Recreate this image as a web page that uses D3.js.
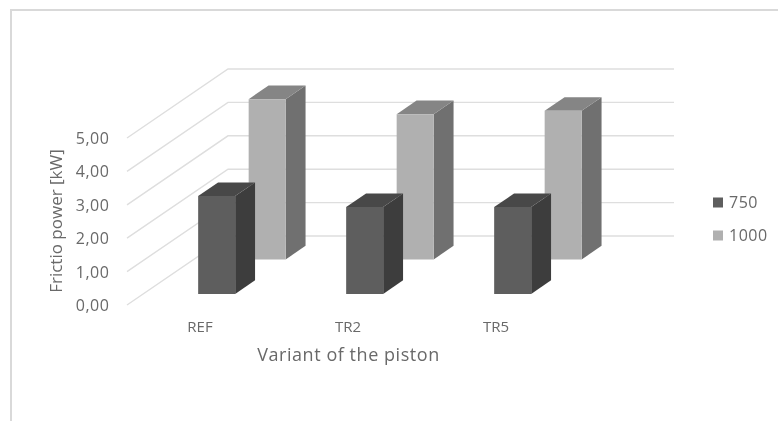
<!DOCTYPE html>
<html><head><meta charset="utf-8">
<script src="https://cdn.jsdelivr.net/npm/d3@7"></script>
<style>html,body{margin:0;background:#fff}svg{display:block;filter:blur(0.35px)}text{font-family:"Open Sans",sans-serif;fill:#696969}</style>
</head><body><svg id="c" width="778" height="421"></svg>
<script>
const categories = ["REF","TR2","TR5"];
const seriesNames = ["1000","750"];
const values750 = [2.93,2.6,2.6];
const values1000 = [4.8,4.35,4.45];
const ticks = [0,1,2,3,4,5];
const tickLabels = ["0,00","1,00","2,00","3,00","4,00","5,00"];
const axisTitleY = "Frictio power [kW]";
const axisTitleX = "Variant of the piston";
const colors = {"750":{front:"#5e5e5e",top:"#484848",side:"#3d3d3d"},"1000":{front:"#b0b0b0",top:"#858585",side:"#707070"}};
const dataBySeries = {"750":values750,"1000":values1000};

const svg = d3.select("#c");
const W=778,H=421;
svg.append("path").attr("d",`M11,${H}V10H${W}`).attr("fill","none").attr("stroke","#d9d9d9").attr("stroke-width",2);

const xS = d3.scaleBand().domain(categories).range([127,571]);
const yS = d3.scaleLinear().domain([0,5]).range([0,-167]);
const zS = d3.scaleLinear().domain([0,1]).range([0,1]);
const zX = 101, zY = -69, floorY = 305;
const P = (x,v,z)=>[x+zS(z)*zX, floorY+yS(v)+zS(z)*zY];
const line = d3.line();
const backRight = 573;

ticks.forEach(t=>{
  svg.append("path").attr("fill","none").attr("stroke","#dedede").attr("stroke-width",1.4)
    .attr("d",line([P(127,t,0),P(127,t,1),P(backRight,t,1)]));
});
ticks.forEach((t,i)=>{
  svg.append("text").attr("x",109.5).attr("y",P(127,t,0)[1]+6).attr("text-anchor","end")
    .attr("font-size",16).attr("letter-spacing",0.55).text(tickLabels[i]);
});

const barW = 37, barD = 0.197, inset = 55;
const depthStart = {"750":0.16,"1000":0.66};
function bar(series,catIdx){
  const x0 = xS(categories[catIdx])+inset, x1 = x0+barW, v = dataBySeries[series][catIdx];
  const z0 = depthStart[series], z1=z0+barD, c=colors[series];
  const g = svg.append("g");
  const poly=(pts,fill)=>g.append("polygon").attr("points",pts.map(p=>p.join(",")).join(" ")).attr("fill",fill);
  poly([P(x1,0,z0),P(x1,0,z1),P(x1,v,z1),P(x1,v,z0)],c.side);
  poly([P(x0,v,z0),P(x1,v,z0),P(x1,v,z1),P(x0,v,z1)],c.top);
  poly([P(x0,0,z0),P(x1,0,z0),P(x1,v,z0),P(x0,v,z0)],c.front);
}
seriesNames.forEach(s=>categories.forEach((_,i)=>bar(s,i)));

categories.forEach(cat=>{
  svg.append("text").attr("x",xS(cat)+73).attr("y",332).attr("text-anchor","middle").attr("font-size",15).text(cat);
});
svg.append("text").attr("x",348.5).attr("y",361).attr("text-anchor","middle").attr("font-size",18).attr("letter-spacing",0.55).text(axisTitleX);
svg.append("text").attr("transform","translate(62,221) rotate(-90)").attr("text-anchor","middle").attr("font-size",17).text(axisTitleY);

const legendItems=["750","1000"], legendY=d3.scalePoint().domain(legendItems).range([202.5,235.5]);
legendItems.forEach(s=>{
  svg.append("rect").attr("x",713).attr("y",legendY(s)-5).attr("width",10).attr("height",10).attr("fill",colors[s].front);
  svg.append("text").attr("x",729).attr("y",legendY(s)+5).attr("font-size",16).attr("letter-spacing",0.5).text(s);
});
</script></body></html>
